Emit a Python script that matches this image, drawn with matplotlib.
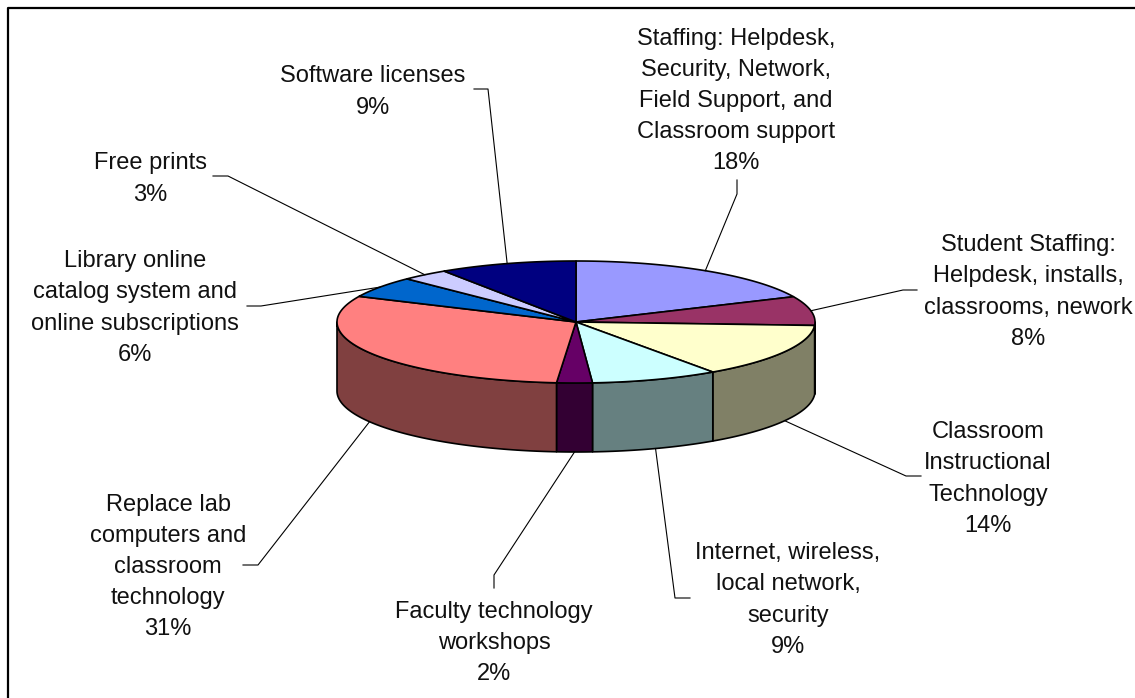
import numpy as np
import matplotlib
matplotlib.use("Agg")
import matplotlib.pyplot as plt
from matplotlib.patches import Polygon

W, H = 1135, 698
categories = [
    "Staffing: Helpdesk,\nSecurity, Network,\nField Support, and\nClassroom support",
    "Student Staffing:\nHelpdesk, installs,\nclassrooms, nework",
    "Classroom\nInstructional\nTechnology",
    "Internet, wireless,\nlocal network,\nsecurity",
    "Faculty technology\nworkshops",
    "Replace lab\ncomputers and\nclassroom\ntechnology",
    "Library online\ncatalog system and\nonline subscriptions",
    "Free prints",
    "Software licenses",
]
values = [18.2, 7.7, 14.4, 8.6, 2.4, 30.6, 5.6, 3.2, 9.3]
top_colors = ["#9999FF", "#993366", "#FFFFCC", "#CCFFFF", "#660066",
              "#FF8080", "#0066CC", "#CCCCFF", "#000080"]
side_colors = ["#4C4C80", "#4C1A33", "#808066", "#668080", "#330033",
               "#804040", "#003366", "#666680", "#000040"]

CX, CY, RX, RY, DEPTH = 576, 322, 239, 61, 69
label_xy = [(736, 101), (1028, 292), (988, 479), (788, 600), (494, 643),
            (168, 567), (135, 308), (150, 179), (373, 92)]
elbows = [[(737, 180), (737, 194)], [(917, 290), (903, 290)],
          [(921, 476), (906, 476)], [(690, 598), (675, 598)],
          [(494, 588), (494, 575)], [(243, 565), (258, 565)],
          [(247, 306), (261, 306)], [(213, 176), (228, 176)],
          [(474, 89), (488, 89)]]


def rim(t_deg, dy=0.0):
    t = np.radians(t_deg)
    return CX + RX * np.sin(t), CY - RY * np.cos(t) + dy


fig = plt.figure(figsize=(W / 100, H / 100), dpi=100)
ax = fig.add_axes([0, 0, 1, 1])
ax.set_xlim(0, W)
ax.set_ylim(H, 0)
ax.axis("off")

ax.plot([8, 8, W + 5], [H + 5, 7.5, 7.5], color="black", lw=1.6, zorder=1)

edges = np.concatenate([[0], np.cumsum(values)]) / sum(values) * 360
LW = 1.2
# side wall: only the front half of the cylinder is visible
for i in range(len(values)):
    a, b = max(edges[i], 90), min(edges[i + 1], 270)
    if b <= a:
        continue
    ts = np.linspace(a, b, 80)
    x, y = rim(ts)
    xb, yb = rim(ts[::-1], DEPTH)
    ax.add_patch(Polygon(np.c_[np.r_[x, xb], np.r_[y, yb]], closed=True,
                         fc=side_colors[i], ec="black", lw=LW, zorder=2,
                         joinstyle="round"))
# top face
for i in range(len(values)):
    ts = np.linspace(edges[i], edges[i + 1], 120)
    x, y = rim(ts)
    ax.add_patch(Polygon(np.c_[np.r_[CX, x], np.r_[CY, y]], closed=True,
                         fc=top_colors[i], ec="black", lw=LW, zorder=3,
                         joinstyle="round"))

# labels and leader lines
for i, (cat, val) in enumerate(zip(categories, values)):
    lx, ly = label_xy[i]
    ax.text(lx, ly, f"{cat}\n{round(val)}%", ha="center", va="center",
            family="Liberation Sans", fontsize=17, linespacing=1.54,
            color="#111111", zorder=5)
    mid = (edges[i] + edges[i + 1]) / 2
    front = 90 < mid < 270
    ax_pt = rim(mid, DEPTH if front else 0)
    pts = elbows[i] + [ax_pt]
    ax.plot(*zip(*pts), color="black", lw=0.8, zorder=4)

fig.savefig("out.png", dpi=100, facecolor="white")
